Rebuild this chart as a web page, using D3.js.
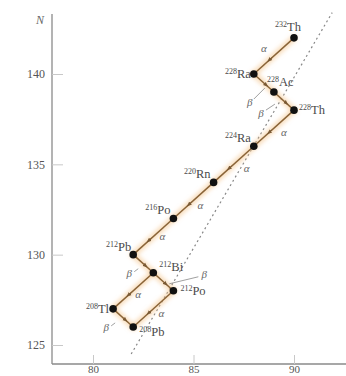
<!DOCTYPE html>
<html>
<head>
<meta charset="utf-8">
<script src="https://cdn.jsdelivr.net/npm/d3@7"></script>
<style>
html,body{margin:0;padding:0;background:#fff;}
svg{display:block;}
</style>
</head>
<body>
<svg id="chart" width="346" height="376"></svg>
<script>
// ---- data ----
const massNumbers = [232, 228, 228, 228, 224, 220, 216, 212, 212, 212, 208, 208];
const symbols     = ["Th", "Ra", "Ac", "Th", "Ra", "Rn", "Po", "Pb", "Bi", "Po", "Tl", "Pb"];
const protonZ     = [90, 88, 89, 90, 88, 86, 84, 82, 83, 84, 81, 82];
const neutronN    = [142, 140, 139, 138, 136, 134, 132, 130, 129, 128, 127, 126];
const decayFrom   = [0, 1, 2, 3, 4, 5, 6, 7, 8, 8, 9, 10];
const decayTo     = [1, 2, 3, 4, 5, 6, 7, 8, 9, 10, 11, 11];
const decayType   = ["α", "β", "β", "α", "α", "α", "α", "β", "β", "α", "α", "β"];
const xTicks      = [80, 85, 90];
const yTicks      = [125, 130, 135, 140];
const refLineZ    = [81.9, 91.9];
const refLineN    = [124.5, 143.4];

// ---- layout (positions / styles only) ----
const labelLayout = [
  {a:"middle", dx:-6, dy:-7},
  {a:"end", dx:-3, dy:4},
  {a:"start", dx:-7, dy:-6},
  {a:"start", dx:5, dy:4},
  {a:"end", dx:-3, dy:-4},
  {a:"end", dx:-3, dy:-4},
  {a:"end", dx:-3, dy:-5},
  {a:"end", dx:-2, dy:-4},
  {a:"start", dx:6, dy:-2},
  {a:"start", dx:7, dy:4},
  {a:"end", dx:-4, dy:4},
  {a:"start", dx:6, dy:9}
];
const greekLayout = [
  {dx:-10, dy:-6},
  {dx:-14, dy:20, lead:[4,-4,15,-15]},
  {dx:-23, dy:13, lead:[5,-4,14,-10]},
  {dx:10, dy:5},
  {dx:13, dy:5},
  {dx:7, dy:6},
  {dx:9, dy:1},
  {dx:-14, dy:11, lead:[5,-3,9,-6]},
  {dx:41, dy:-6, lead:[-6,1,-35,8]},
  {dx:5, dy:5},
  {dx:8, dy:6},
  {dx:-17, dy:11, lead:[5,-3,9,-6]}
];

const svg = d3.select("#chart");
const serif = "'Liberation Serif','DejaVu Serif',serif";

const x = d3.scaleLinear().domain([80, 90]).range([93, 294]);
const y = d3.scaleLinear().domain([125, 140]).range([345, 74]);

const axisX0 = 52, axisY0 = 364;

// defs
const defs = svg.append("defs");
const blur = defs.append("filter").attr("id","glow").attr("x","-20%").attr("y","-20%").attr("width","140%").attr("height","140%");
blur.append("feGaussianBlur").attr("stdDeviation", 2.2);
defs.append("marker").attr("id","arr").attr("viewBox","0 0 10 10").attr("refX",5).attr("refY",5)
  .attr("markerWidth",5).attr("markerHeight",5).attr("orient","auto")
  .append("path").attr("d","M0,1 L10,5 L0,9 Z").attr("fill","#7a5a35");

// axes lines
svg.append("line").attr("x1",axisX0).attr("x2",axisX0).attr("y1",14).attr("y2",axisY0)
  .attr("stroke","#8a8a8a").attr("stroke-width",1.3);
svg.append("line").attr("x1",axisX0).attr("x2",346).attr("y1",axisY0).attr("y2",axisY0)
  .attr("stroke","#8a8a8a").attr("stroke-width",1.3);

const yAxis = svg.append("g").attr("transform",`translate(${axisX0},0)`)
  .call(d3.axisLeft(y).tickValues(yTicks).tickSize(-11).tickPadding(7).tickSizeOuter(0));
yAxis.select(".domain").remove();
yAxis.selectAll(".tick line").attr("stroke","#c8c8c8");
yAxis.selectAll(".tick text").attr("font-family",serif).attr("font-size",12).attr("fill","#555");

const xAxis = svg.append("g").attr("transform",`translate(0,${axisY0})`)
  .call(d3.axisBottom(x).tickValues(xTicks).tickSize(-9).tickPadding(1).tickSizeOuter(0));
xAxis.select(".domain").remove();
xAxis.selectAll(".tick line").attr("stroke","#c8c8c8");
xAxis.selectAll(".tick text").attr("font-family",serif).attr("font-size",11).attr("fill","#555");

svg.append("text").attr("x",40).attr("y",24).attr("text-anchor","middle")
  .attr("font-family",serif).attr("font-style","italic").attr("font-size",12).attr("fill","#666").text("N");

// reference dashed line
svg.append("line")
  .attr("x1",x(refLineZ[0])).attr("y1",y(refLineN[0]))
  .attr("x2",x(refLineZ[1])).attr("y2",y(refLineN[1]))
  .attr("stroke","#888").attr("stroke-width",1.2).attr("stroke-dasharray","2,3");

const decays = decayFrom.map((f,i)=>({f, t:decayTo[i], type:decayType[i], i}));

// glow
svg.append("g").attr("filter","url(#glow)").selectAll("line").data(decays).join("line")
  .attr("x1",d=>x(protonZ[d.f])).attr("y1",d=>y(neutronN[d.f]))
  .attr("x2",d=>x(protonZ[d.t])).attr("y2",d=>y(neutronN[d.t]))
  .attr("stroke","#f4c387").attr("stroke-opacity",0.55).attr("stroke-width",6).attr("stroke-linecap","round");

// main paths
svg.append("g").selectAll("line").data(decays).join("line")
  .attr("x1",d=>x(protonZ[d.f])).attr("y1",d=>y(neutronN[d.f]))
  .attr("x2",d=>x(protonZ[d.t])).attr("y2",d=>y(neutronN[d.t]))
  .attr("stroke","#8a6438").attr("stroke-width",1.5);

// arrowheads mid-segment
svg.append("g").selectAll("path").data(decays).join("path")
  .attr("d",d=>{
    const x1=x(protonZ[d.f]), y1=y(neutronN[d.f]), x2=x(protonZ[d.t]), y2=y(neutronN[d.t]);
    const mx=x1+(x2-x1)*0.62, my=y1+(y2-y1)*0.62;
    return `M${x1+(x2-x1)*0.55},${y1+(y2-y1)*0.55} L${mx},${my}`;
  })
  .attr("stroke","#7a5a35").attr("stroke-width",1).attr("fill","none").attr("marker-end","url(#arr)");

// greek labels
const gl = svg.append("g");
decays.forEach(d=>{
  const L = greekLayout[d.i];
  const mx=(x(protonZ[d.f])+x(protonZ[d.t]))/2, my=(y(neutronN[d.f])+y(neutronN[d.t]))/2;
  const tx=mx+L.dx, ty=my+L.dy;
  if(L.lead){
    gl.append("line").attr("x1",tx+L.lead[0]).attr("y1",ty+L.lead[1])
      .attr("x2",tx+L.lead[2]).attr("y2",ty+L.lead[3])
      .attr("stroke","#888").attr("stroke-width",0.8);
  }
  gl.append("text").attr("x",tx).attr("y",ty).attr("text-anchor","middle").attr("dominant-baseline","middle")
    .attr("font-family",serif).attr("font-style","italic").attr("font-size",11).attr("fill","#666").text(d.type);
});

// dots
svg.append("g").selectAll("circle").data(protonZ.map((z,i)=>i)).join("circle")
  .attr("cx",i=>x(protonZ[i])).attr("cy",i=>y(neutronN[i])).attr("r",3.8).attr("fill","#111");

// nuclide labels
const nl = svg.append("g");
massNumbers.forEach((m,i)=>{
  const L = labelLayout[i];
  const t = nl.append("text").attr("x",x(protonZ[i])+L.dx).attr("y",y(neutronN[i])+L.dy)
    .attr("text-anchor",L.a).attr("font-family",serif).attr("fill","#4a4a4a");
  t.append("tspan").attr("font-size",8).attr("dy",-4).text(m);
  t.append("tspan").attr("font-size",12.5).attr("dy",4).text(symbols[i]);
});
</script>
</body>
</html>
